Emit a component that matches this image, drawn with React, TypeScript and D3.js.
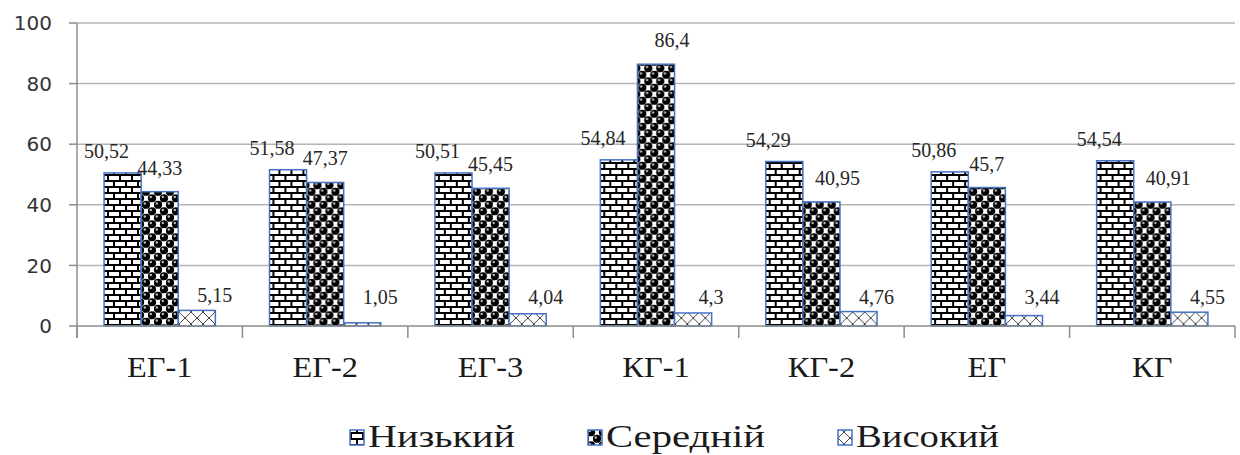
import React from "react";
import * as d3 from "d3";

const categories = ["ЕГ-1", "ЕГ-2", "ЕГ-3", "КГ-1", "КГ-2", "ЕГ", "КГ"];
const seriesNames = ["Низький", "Середній", "Високий"];
const lowValues = [50.52, 51.58, 50.51, 54.84, 54.29, 50.86, 54.54];
const midValues = [44.33, 47.37, 45.45, 86.4, 40.95, 45.7, 40.91];
const highValues = [5.15, 1.05, 4.04, 4.3, 4.76, 3.44, 4.55];
const labelTexts = [
  ["50,52", "51,58", "50,51", "54,84", "54,29", "50,86", "54,54"],
  ["44,33", "47,37", "45,45", "86,4", "40,95", "45,7", "40,91"],
  ["5,15", "1,05", "4,04", "4,3", "4,76", "3,44", "4,55"],
];
const yTicks = [0, 20, 40, 60, 80, 100];

const W = 1240;
const H = 455;
const X0 = 77;
const X1 = 1235;
const Y0 = 326;
const Y1 = 23;
const BLUE = "#4472C4";
const SERIF = "'Liberation Serif', 'Times New Roman', Tinos, 'DejaVu Serif', serif";
const patternIds = ["pBrick", "pSphere", "pDiamond"];
const legendX = [350, 588, 838];
const legendTextW = [147, 159, 143];

export default function App() {
  const values = [lowValues, midValues, highValues];
  const x = d3.scaleBand<string>().domain(categories).range([X0, X1]).padding(0);
  const xs = d3
    .scaleBand<string>()
    .domain(seriesNames)
    .range([0, x.bandwidth()])
    .paddingInner(0)
    .paddingOuter(0.73);
  const y = d3.scaleLinear().domain([0, 100]).range([Y0, Y1]);
  const bw = xs.bandwidth();

  const labelDx = (s: number, i: number) => {
    if (s === 0) return -16;
    if (s === 1) return Math.abs(values[1][i] - values[0][i]) > 8 ? 16 : 0;
    return 18;
  };
  const labelY = (s: number, v: number) => {
    if (s === 0) return y(v) - 15;
    if (s === 1) return y(v) - 17;
    return Math.min(y(v) - 8, y(0) - 22);
  };

  return (
    <svg
      width={W}
      height={H}
      style={{ position: "absolute", left: 0, top: 0, background: "#fff" }}
    >
      <defs>
        <pattern id="pBrick" patternUnits="userSpaceOnUse" width={12} height={12}>
          <rect width={12} height={12} fill="#fff" />
          <rect x={0} y={0} width={12} height={2} fill="#000" />
          <rect x={0} y={6} width={12} height={2} fill="#000" />
          <rect x={0} y={0} width={2} height={6} fill="#000" />
          <rect x={6} y={6} width={2} height={6} fill="#000" />
        </pattern>
        <pattern id="pSphere" patternUnits="userSpaceOnUse" width={12} height={13}>
          <rect width={12} height={13} fill="#fff" />
          {[
            [3, 3.25],
            [9, 9.75],
            [-3, 9.75],
            [15, 3.25],
            [9, -3.25],
            [3, 16.25],
            [-3, -3.25],
            [15, 16.25],
          ].map(([cx, cy], k) => (
            <g key={k}>
              <circle cx={cx} cy={cy} r={4.1} fill="#000" />
              <circle cx={cx - 1.2} cy={cy - 1.2} r={1.2} fill="#bbb" />
            </g>
          ))}
        </pattern>
        <pattern id="pDiamond" patternUnits="userSpaceOnUse" width={12} height={12}>
          <rect width={12} height={12} fill="#fff" />
          <path d="M0,6 L6,0 L12,6 L6,12 Z" fill="none" stroke="#444" strokeWidth={1} />
        </pattern>
      </defs>

      {/* gridlines */}
      {yTicks
        .filter((t) => t > 0)
        .map((t) => (
          <line key={t} x1={X0} x2={X1} y1={y(t)} y2={y(t)} stroke="#b5b5b5" strokeWidth={1.5} />
        ))}

      {/* y axis */}
      <line x1={X0} x2={X0} y1={Y1} y2={Y0 + 12} stroke="#8c8c8c" strokeWidth={1.5} />
      {yTicks.map((t) => (
        <g key={t}>
          <line x1={X0 - 8} x2={X0} y1={y(t)} y2={y(t)} stroke="#8c8c8c" strokeWidth={1.5} />
          <text
            x={52}
            y={y(t)}
            dy="0.36em"
            textAnchor="end"
            fontFamily="'DejaVu Sans', Verdana, sans-serif"
            fontSize={20}
            fill="#333"
          >
            {t}
          </text>
        </g>
      ))}

      {/* bars */}
      {categories.map((c, i) => (
        <g key={c} transform={`translate(${x(c)},0)`}>
          {seriesNames.map((s, k) => {
            const v = values[k][i];
            return (
              <rect
                key={s}
                x={xs(s)}
                y={y(v)}
                width={bw}
                height={y(0) - y(v)}
                fill={`url(#${patternIds[k]})`}
                stroke={BLUE}
                strokeWidth={1.5}
              />
            );
          })}
        </g>
      ))}

      {/* x axis */}
      <line x1={X0} x2={X1} y1={Y0} y2={Y0} stroke="#8c8c8c" strokeWidth={1.5} />
      {[...categories.map((c) => x(c) as number), X1].map((bx, j) => (
        <line key={j} x1={bx} x2={bx} y1={Y0} y2={Y0 + 12} stroke="#8c8c8c" strokeWidth={1.5} />
      ))}
      {categories.map((c) => (
        <text
          key={c}
          transform={`translate(${(x(c) as number) + x.bandwidth() / 2},377) scale(1.08,1)`}
          textAnchor="middle"
          fontFamily={SERIF}
          fontSize={30}
          fill="#1a1a1a"
        >
          {c}
        </text>
      ))}

      {/* data labels */}
      {categories.map((c, i) =>
        seriesNames.map((s, k) => {
          const v = values[k][i];
          const cx = (x(c) as number) + (xs(s) as number) + bw / 2 + labelDx(k, i);
          return (
            <text
              key={c + s}
              x={cx}
              y={labelY(k, v)}
              textAnchor="middle"
              fontFamily={SERIF}
              fontSize={20}
              fill="#262626"
            >
              {labelTexts[k][i]}
            </text>
          );
        })
      )}

      {/* legend */}
      {seriesNames.map((s, k) => (
        <g key={s} transform={`translate(${legendX[k]},0)`}>
          <rect x={0} y={430} width={14} height={15} fill={`url(#${patternIds[k]})`} stroke={BLUE} strokeWidth={1.5} />
          <text
            x={18}
            y={447}
            fontFamily={SERIF}
            fontSize={32}
            fill="#1a1a1a"
            textLength={legendTextW[k]}
            lengthAdjust="spacingAndGlyphs"
          >
            {s}
          </text>
        </g>
      ))}
    </svg>
  );
}
